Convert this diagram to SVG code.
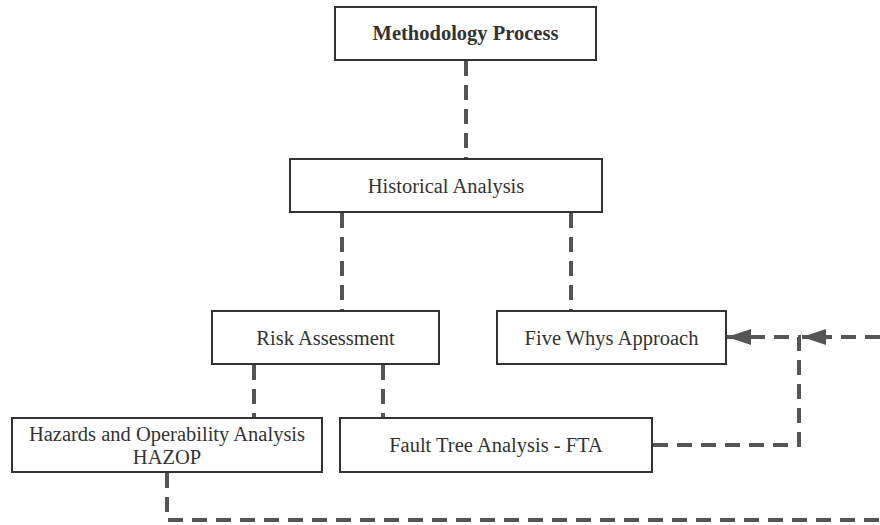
<svg xmlns="http://www.w3.org/2000/svg" width="880" height="525" viewBox="0 0 880 525">
<defs>
<style>
.box{fill:#fff;stroke:#333;stroke-width:2}
.t{font-family:"Liberation Serif","Times New Roman",serif;font-size:20.5px;fill:#333;text-anchor:middle}
.b{font-weight:bold}
.c{fill:none;stroke:#555;stroke-width:4;stroke-dasharray:15 9}
</style>
<marker id="ar" viewBox="0 0 10 10" refX="10" refY="5" markerWidth="6" markerHeight="4" markerUnits="strokeWidth" orient="auto" preserveAspectRatio="none">
<path d="M0,0 L10,5 L0,10 z" fill="#555"/>
</marker>
</defs>
<rect width="880" height="525" fill="#fff"/>
<g id="connectors">
<path class="c" d="M466,61 V159"/>
<path class="c" d="M342,213 V311"/>
<path class="c" d="M571,213 V311"/>
<path class="c" d="M254,365 V418"/>
<path class="c" d="M383,365 V418"/>
<path class="c" d="M167,473 V520 H880"/>
<path class="c" d="M653,445 H799 V337 H727" marker-end="url(#ar)"/>
<path class="c" d="M880,337 H802" marker-end="url(#ar)"/>
</g>
<g id="methodology">
<rect class="box" x="335" y="7" width="261" height="53"/>
<text class="t b" x="465.5" y="40">Methodology Process</text>
</g>
<g id="historical">
<rect class="box" x="290" y="159" width="312" height="53"/>
<text class="t" x="446" y="193">Historical Analysis</text>
</g>
<g id="risk">
<rect class="box" x="212" y="311" width="227" height="53"/>
<text class="t" x="325.5" y="345">Risk Assessment</text>
</g>
<g id="fivewhys">
<rect class="box" x="497" y="311" width="229" height="53"/>
<text class="t" x="611.5" y="345">Five Whys Approach</text>
</g>
<g id="hazop">
<rect class="box" x="12" y="418" width="310" height="54"/>
<text class="t" x="167" y="441">Hazards and Operability Analysis</text>
<text class="t" x="167" y="464">HAZOP</text>
</g>
<g id="fta">
<rect class="box" x="340" y="418" width="312" height="54"/>
<text class="t" x="496" y="452">Fault Tree Analysis - FTA</text>
</g>
</svg>
